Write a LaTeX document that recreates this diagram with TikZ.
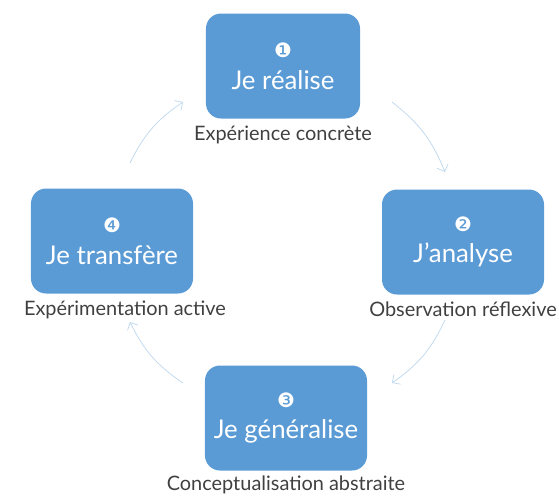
\documentclass[tikz,border=0pt]{standalone}
\usepackage{fontspec}
\setmainfont{Lato}
\newfontfamily\dingfont{DejaVu Sans}
\usetikzlibrary{positioning, arrows.meta}
\definecolor{kolbblau}{HTML}{5B9BD5}
\definecolor{pfeilblau}{HTML}{BDD7EE}
\definecolor{grautext}{HTML}{404040}

\begin{document}
\begin{tikzpicture}[x=0.03cm, y=-0.03cm,
      etappe/.style={fill=kolbblau, rounded corners=0.45cm, text=white,
        align=center, font=\fontsize{22}{27}\selectfont, inner sep=0pt,
        minimum width=4.86cm, minimum height=3.15cm},
      legende/.style={text=grautext, font=\fontsize{17}{19}\selectfont, inner sep=0pt},
      zyklus/.style={-{Straight Barb[length=5pt]}, pfeilblau, line width=0.6pt, bend left=15}]
    \useasboundingbox (0,0) rectangle (559,495);
    % die vier Etappen
    \node[etappe, minimum width=4.62cm] (realise) at (283,66)
      {{\dingfont\fontsize{17}{17}\selectfont ❶}\\Je réalise};
    \node[etappe] (analyse) at (463,242)
      {{\dingfont\fontsize{17}{17}\selectfont ❷}\\J’analyse};
    \node[etappe] (generalise) at (286,418)
      {{\dingfont\fontsize{17}{17}\selectfont ❸}\\Je généralise};
    \node[etappe] (transfere) at (112,241)
      {{\dingfont\fontsize{17}{17}\selectfont ❹}\\Je transfère};
    % Legenden
    \node[legende, below=0.2cm of realise] (concret) {Expérience concrète};
    \node[legende, below=0.2cm of analyse] (reflexif) {Observation réflexive};
    \node[legende, below=0.15cm of generalise] (abstrait) {Conceptualisation abstraite};
    \node[legende, below=0.2cm of transfere, xshift=0.39cm] (actif) {Expérimentation active};
    % Zyklus
    \coordinate (z1a) at (392,102);
    \coordinate (z1b) at (445,172);
    \coordinate (z2a) at (445,320);
    \coordinate (z2b) at (392,383);
    \coordinate (z3a) at (183,383);
    \coordinate (z3b) at (130,322);
    \coordinate (z4a) at (130,163);
    \coordinate (z4b) at (183,102);
    \draw[zyklus] (z1a) to (z1b);
    \draw[zyklus] (z2a) to (z2b);
    \draw[zyklus] (z3a) to (z3b);
    \draw[zyklus] (z4a) to (z4b);
  \end{tikzpicture}
\end{document}
